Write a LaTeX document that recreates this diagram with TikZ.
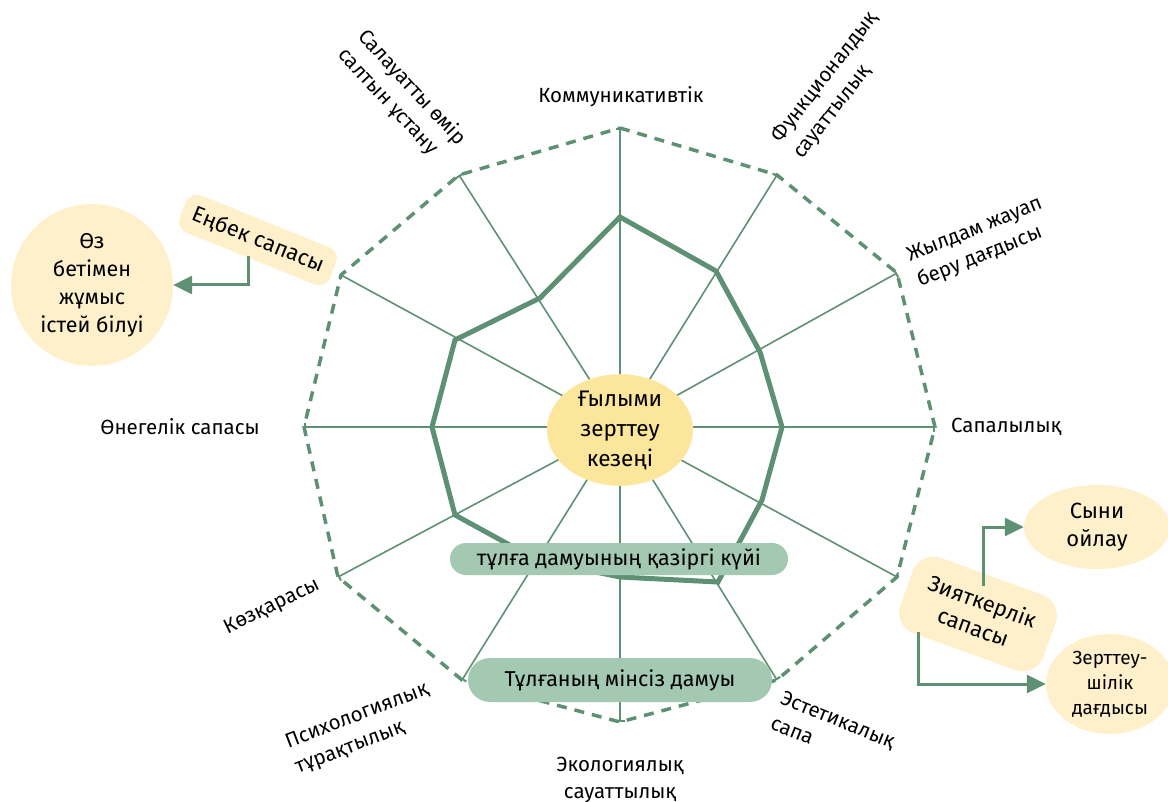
\documentclass[tikz,border=0pt]{standalone}
\usepackage{fontspec}
\setmainfont{Fira Sans}
\usetikzlibrary{arrows.meta,shapes.geometric}
\definecolor{gline}{RGB}{94,145,115}
\definecolor{pillc}{RGB}{163,201,178}
\definecolor{cyel}{RGB}{252,230,156}
\definecolor{lyel}{RGB}{253,240,203}
\begin{document}
\begin{tikzpicture}[x=1pt,y=-1pt,
  spoke/.style={draw=gline,line width=1.6pt,-{Bar[width=9pt,line width=2pt]}},
  outline/.style={draw=gline,line width=3.5pt,dash pattern=on 10pt off 8pt},
  dataline/.style={draw=gline,line width=5pt,line join=miter},
  lbl/.style={font=\fontsize{20.5}{27}\selectfont,inner sep=0pt},
  lblL/.style={lbl,align=left},
  lblC/.style={lbl,align=center},
  pillbox/.style={fill=pillc,rounded corners=16pt,font=\fontsize{21.5}{28}\selectfont,inner sep=0pt},
  ybox/.style={fill=lyel,rounded corners=12pt,font=\fontsize{22}{27}\selectfont,align=center,inner sep=0pt},
  link/.style={draw=gline,line width=3pt,-{Triangle[length=19pt,width=18pt]}}
]
\useasboundingbox (0,0) rectangle (1168,802);
\coordinate (C) at (620,427);
\coordinate (e0) at (620,128);
\coordinate (e1) at (777,175);
\coordinate (e2) at (897,273);
\coordinate (e3) at (935,427);
\coordinate (e4) at (897,577);
\coordinate (e5) at (777,680);
\coordinate (e6) at (620,722);
\coordinate (e7) at (462,680);
\coordinate (e8) at (338,577);
\coordinate (e9) at (304,427);
\coordinate (e10) at (341,275);
\coordinate (e11) at (459,175);
\draw[outline] (e0) -- (e1) -- (e2) -- (e3) -- (e4) -- (e5) -- (e6) -- (e7) -- (e8) -- (e9) -- (e10) -- (e11) -- cycle;
\foreach \i in {0,...,11} \draw[spoke] (C) -- (e\i);
\coordinate (d0) at (620,217);
\coordinate (d1) at (716,271);
\coordinate (d2) at (760,352);
\coordinate (d3) at (782,427);
\coordinate (d4) at (762,500);
\coordinate (d5) at (718,582);
\coordinate (d6) at (620,577);
\coordinate (d7) at (537,560);
\coordinate (d8) at (455,515);
\coordinate (d9) at (432,427);
\coordinate (d10) at (455,340);
\coordinate (d11) at (540,298);
\draw[dataline] (d0) -- (d1) -- (d2) -- (d3) -- (d4) -- (d5) -- (d6) -- (d7) -- (d8) -- (d9) -- (d10) -- (d11) -- cycle;
% center
\node[ellipse,fill=cyel,minimum width=146pt,minimum height=98pt,inner sep=0pt,align=center,font=\fontsize{22.5}{30}\selectfont] (center) at (620,430) {Ғылыми\\зерттеу\\кезеңі};
\node[pillbox,minimum width=338pt,minimum height=32pt] (now) at (619,559) {тұлға дамуының қазіргі күйі};
\node[pillbox,minimum width=304pt,minimum height=44pt,rounded corners=22pt] (ideal) at (620,680) {Тұлғаның мінсіз дамуы};
% labels
\node[lblC] (l0) at (621,97) {Коммуникативтік};
\node[lblL,rotate=52] (l1) at (836,86) {Функционалдық\\сауаттылық};
\node[lblL,rotate=22] (l2) at (980,243) {Жылдам жауап\\беру дағдысы};
\node[lbl,anchor=west] (l3) at (951,427) {Сапалылық};
\node[lblL,rotate=-22] (l5) at (833,732) {Эстетикалық\\сапа};
\node[lblC] (l6) at (620,780) {Экологиялық\\сауаттылық};
\node[lblL,rotate=21] (l7) at (362,729) {Психологиялық\\тұрақтылық};
\node[lbl,rotate=26] (l8) at (272,607) {Көзқарасы};
\node[lbl] (l9) at (180,427) {Өнегелік сапасы};
\node[lblL,rotate=-47] (l11) at (402,97) {Салауатты өмір\\салтын ұстану};
% left group
\node[ybox,rotate=-22,minimum width=162pt,minimum height=40pt] (enbek) at (258,240) {Еңбек сапасы};
\node[circle,fill=lyel,minimum size=162pt,inner sep=0pt,align=center,font=\fontsize{21.5}{28}\selectfont] (oz) at (92,285) {Өз\\бетімен\\жұмыс\\істей білуі};
\coordinate (a1) at (248,256);
\draw[link] (a1) |- (oz.east);
% right group
\node[ybox,rotate=-20,minimum width=152pt,minimum height=80pt,rounded corners=22pt] (ziyat) at (978,614) {Зияткерлік\\сапасы};
\node[ellipse,fill=lyel,minimum width=146pt,minimum height=84pt,inner sep=0pt,align=center,font=\fontsize{22}{28}\selectfont] (syni) at (1097,527) {Сыни\\ойлау};
\node[ellipse,fill=lyel,minimum width=128pt,minimum height=100pt,inner sep=0pt,align=center,font=\fontsize{19}{25}\selectfont] (zert) at (1110,684) {Зерттеу-\\шілік\\дағдысы};
\coordinate (b1) at (983,586);
\coordinate (b2) at (918,632);
\draw[link] (b1) |- (syni.west);
\draw[link] (b2) |- (zert.west);
\end{tikzpicture}
\end{document}
